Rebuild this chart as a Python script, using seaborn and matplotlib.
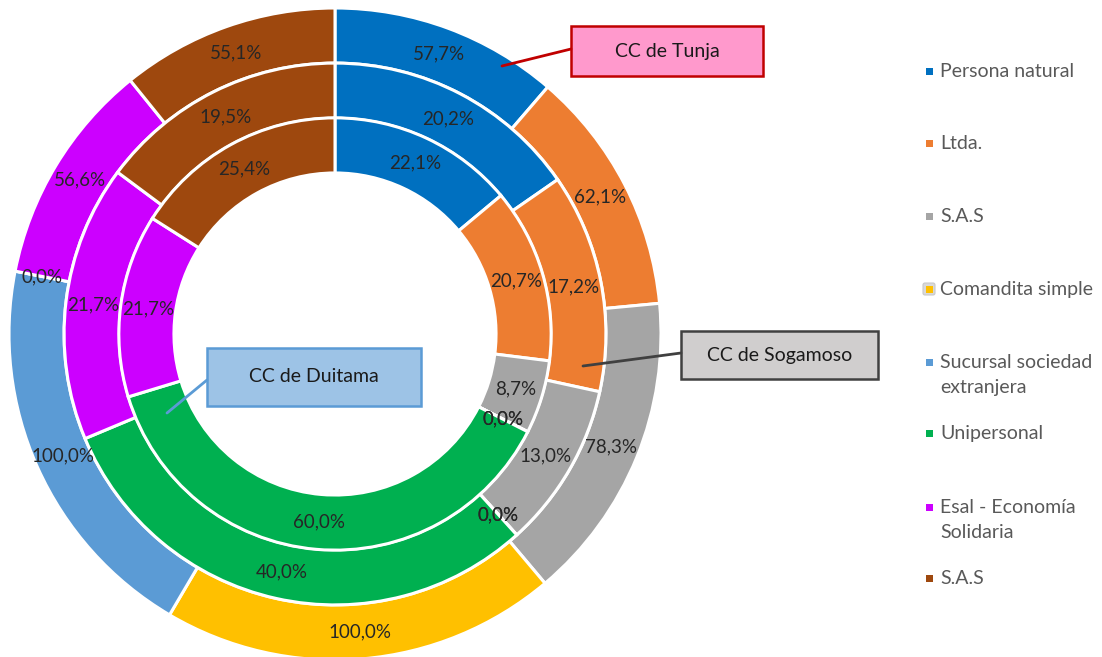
import matplotlib.pyplot as plt
import seaborn as sns
from matplotlib.patches import Rectangle, FancyBboxPatch

# valores por tipo de sociedad y cámara de comercio
categorias = ["Persona natural", "Ltda.", "S.A.S", "Comandita simple",
              "Sucursal sociedad\nextranjera", "Unipersonal",
              "Esal - Economía\nSolidaria", "S.A.S"]
tunja = [57.7, 62.1, 78.3, 100.0, 100.0, 0.0, 56.6, 55.1]
sogamoso = [20.2, 17.2, 13.0, 0.0, 0.0, 40.0, 21.7, 19.5]
duitama = [22.1, 20.7, 8.7, 0.0, 0.0, 60.0, 21.7, 25.4]
colores = ["#0070C0", "#ED7D31", "#A5A5A5", "#FFC000",
           "#5B9BD5", "#00B050", "#CC00FF", "#9E480E"]

sns.set_style("white")
plt.rcParams['font.family'] = ['Lato', 'DejaVu Sans']

W, H = 1102, 657
CX, CY, R = 335, 334, 326

fig = plt.figure(figsize=(W / 100, H / 100), dpi=100)
ax = fig.add_axes([0, 0, 1, 1])


def fmt(total):
    return lambda p: f"{p * total / 100:.1f}".replace('.', ',') + '%'


ancho = 0.169
for valores, radio in [(tunja, 1.0), (sogamoso, 0.831), (duitama, 0.663)]:
    ax.pie(valores, radius=radio, colors=colores, startangle=90, counterclock=False,
           wedgeprops=dict(width=ancho, edgecolor='white', linewidth=2.2),
           autopct=fmt(sum(valores)), pctdistance=(radio - ancho / 2) / radio,
           textprops=dict(color='#262626', fontsize=13.5))

ax.set_xlim(-CX / R, (W - CX) / R)
ax.set_ylim(-(H - CY) / R, CY / R)
ax.set_aspect('auto')
ax.axis('off')

# capa en pixeles para rotulos y leyenda
ov = fig.add_axes([0, 0, 1, 1], facecolor='none')
ov.set_xlim(0, W)
ov.set_ylim(H, 0)
ov.axis('off')

callouts = [
    ("CC de Tunja", (571, 26, 192, 50), '#FF99CC', '#C00000', (502, 66), (571, 49)),
    ("CC de Sogamoso", (681, 331, 197, 48), '#D0CECE', '#404040', (583, 366), (681, 353)),
    ("CC de Duitama", (207, 348, 214, 58), '#9DC3E6', '#5B9BD5', (167, 413), (207, 380)),
]
for texto, (x, y, w, h), fondo, borde, p0, p1 in callouts:
    ov.plot([p0[0], p1[0]], [p0[1], p1[1]], color=borde, lw=2)
    ov.add_patch(Rectangle((x, y), w, h, facecolor=fondo, edgecolor=borde, lw=1.8))
    ov.text(x + w / 2, y + h / 2, texto, ha='center', va='center', fontsize=14, color='#1a1a1a')

# leyenda
leg_y = [71, 143, 216, 289, 362, 433, 507, 578]
for cat, col, y in zip(categorias, colores, leg_y):
    if cat == "Comandita simple":
        ov.add_patch(FancyBboxPatch((923, y - 6), 12, 12, boxstyle="round,pad=0,rounding_size=2",
                                    facecolor='#D9D9D9', edgecolor='#C8C8C8', lw=0.8))
    ov.add_patch(Rectangle((925.5, y - 3.5), 7, 7, facecolor=col, edgecolor='none'))
    n = cat.count('\n')
    ov.text(940, y + 6 + 25 * n, cat, ha='left', va='baseline', fontsize=14,
            color='#595959', linespacing=1.55)

fig.savefig("out.png", dpi=100)
